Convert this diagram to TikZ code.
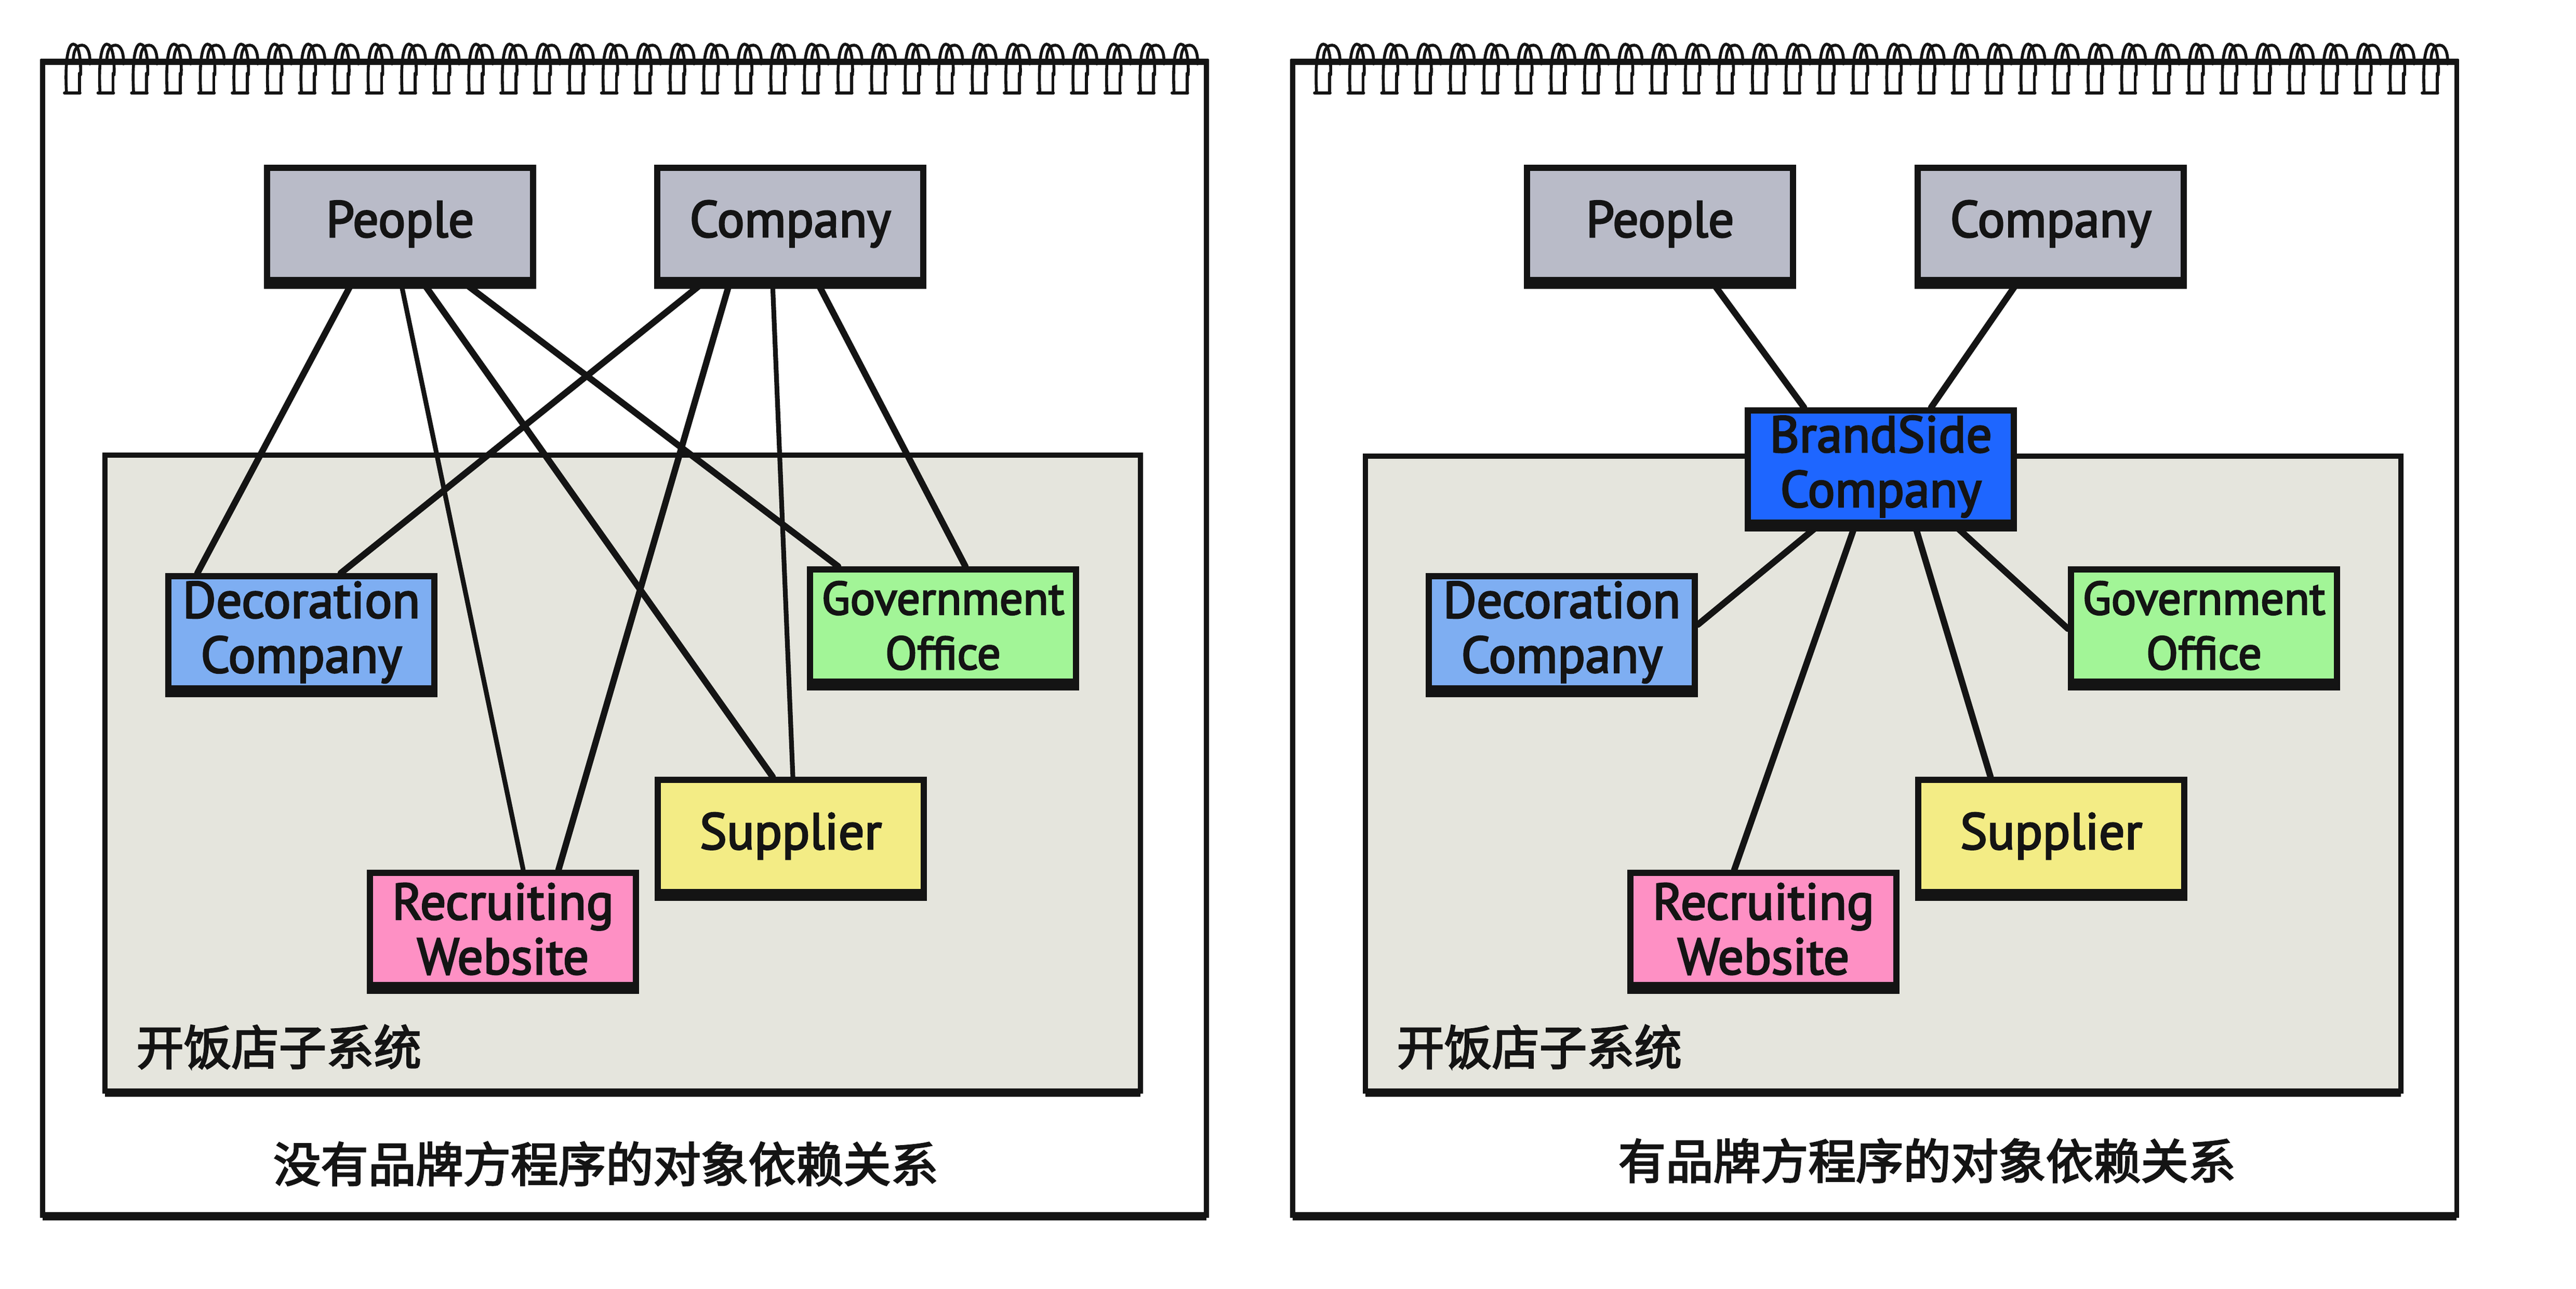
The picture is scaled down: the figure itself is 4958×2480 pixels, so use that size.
\documentclass[tikz,border=0pt]{standalone}
\usepackage{fontspec}
\setmainfont{PT Sans}[RawFeature={embolden=3}]
\newfontfamily\cjk{Noto Sans CJK SC}[RawFeature={embolden=3}]
\usetikzlibrary{calc}
\pgfdeclarelayer{bg}
\pgfdeclarelayer{mid}
\pgfsetlayers{bg,mid,main}

\definecolor{boxgray}{HTML}{B9BBC8}
\definecolor{sysfill}{HTML}{E5E5DD}
\definecolor{decblue}{HTML}{7EAEF2}
\definecolor{govgreen}{HTML}{A2F597}
\definecolor{supyellow}{HTML}{F3EC85}
\definecolor{recpink}{HTML}{FE90C4}
\definecolor{brandblue}{HTML}{1E66FF}
\definecolor{ink}{HTML}{141414}

\tikzset{
  entity/.style={draw=ink, line width=3.4pt, minimum width=5.12cm, minimum height=2.16cm,
    align=center, inner sep=0pt, text=ink, font=\fontsize{28}{30}\selectfont},
  conn/.style={draw=ink, line width=3.5pt, line cap=round},
  thinconn/.style={draw=ink, line width=2.6pt, line cap=round},
  frameline/.style={draw=ink, line width=2.6pt},
  bottomedge/.style={draw=ink, line width=4.5pt},
  ringline/.style={draw=ink, line width=1.6pt, line cap=round},
  syslabel/.style={anchor=west, text=ink, font=\cjk\fontsize{26}{26}\selectfont},
  caption/.style={text=ink, font=\cjk\fontsize{26}{26}\selectfont},
  ring/.pic={
    \draw[ringline] (13,0) .. controls (13,-24) and (20,-32) .. (30,-32) .. controls (41,-32) and (46,-15) .. (45,4);
    \draw[ringline] (0,60) .. controls (-3,10) and (1,-34) .. (13,-34) .. controls (24,-34) and (28,-5) .. (27,25);
    \draw[ringline] (25,22) -- (25,58);
    \draw[ringline] (-4,60) -- (26,60);
  }
}

\begin{document}
\begin{tikzpicture}[x=0.01cm, y=-0.01cm]
\useasboundingbox (0,0) rectangle (4958,2480);

% ---------- notebook frames and system boxes ----------
\begin{pgfonlayer}{bg}
\fill[white] (0,0) rectangle (4958,2480);
\foreach \off in {0,2406} {
  \draw[frameline] (82+\off,119) rectangle (2322+\off,2339);
  \draw[bottomedge] (82+\off,2341) -- (2322+\off,2341);
  \foreach \i in {0,...,33} {
    \pic at ({128+\off+\i*64.6},119) {ring};
  }
  \draw[frameline, line width=3.2pt] (78+\off,119) -- (2326+\off,119);
}
\draw[frameline, fill=sysfill, line width=3pt] (202,876) rectangle (2195,2100);
\draw[bottomedge] (202,2103) -- (2195,2103);
\draw[frameline, fill=sysfill, line width=3pt] (2628,878) rectangle (4621,2100);
\draw[bottomedge] (2628,2103) -- (4621,2103);
\end{pgfonlayer}

% ---------- left panel ----------
\node[entity, fill=boxgray] (lp) at (770,431) {People};
\node[entity, fill=boxgray] (lc) at (1521,431) {Company};
\node[entity, fill=decblue] (ldec) at (580,1217) {Decoration\\Company};
\node[entity, fill=govgreen, font=\fontsize{25.5}{30}\selectfont] (lgov) at (1815,1204) {Government\\Office};
\node[entity, fill=supyellow] (lsup) at (1522,1609) {Supplier};
\node[entity, fill=recpink] (lrec) at (968,1788) {Recruiting\\Website};
\node[syslabel] (lsys) at (250,2015) {开饭店子系统};
\node[caption] (lcap) at (1166,2240) {没有品牌方程序的对象依赖关系};

\begin{pgfonlayer}{mid}
\draw[conn] ($(lp.south)+(-93,0)$) -- ($(ldec.north)+(-200,0)$);
\draw[thinconn] ($(lp.south)+(2,0)$) -- ($(lrec.north)+(39,0)$);
\draw[conn] ($(lp.south)+(45,0)$) -- ($(lsup.north)+(-35,0)$);
\draw[conn] ($(lp.south)+(124,0)$) -- ($(lgov.north)+(-202,0)$);
\draw[conn] ($(lc.south)+(-169,0)$) -- ($(ldec.north)+(76,0)$);
\draw[conn] ($(lc.south)+(-117,0)$) -- ($(lrec.north)+(107,0)$);
\draw[thinconn] ($(lc.south)+(-34,0)$) -- ($(lsup.north)+(4,0)$);
\draw[conn] ($(lc.south)+(53,0)$) -- ($(lgov.north)+(43,0)$);
\end{pgfonlayer}

% ---------- right panel ----------
\node[entity, fill=boxgray] (rp) at (3195,431) {People};
\node[entity, fill=boxgray] (rc) at (3947,431) {Company};
\node[entity, fill=brandblue] (rb) at (3620,898) {BrandSide\\Company};
\node[entity, fill=decblue] (rdec) at (3006,1217) {Decoration\\Company};
\node[entity, fill=govgreen, font=\fontsize{25.5}{30}\selectfont] (rgov) at (4242,1204) {Government\\Office};
\node[entity, fill=supyellow] (rsup) at (3948,1609) {Supplier};
\node[entity, fill=recpink] (rrec) at (3394,1788) {Recruiting\\Website};
\node[syslabel] (rsys) at (2676,2015) {开饭店子系统};
\node[caption] (rcap) at (3709,2234) {有品牌方程序的对象依赖关系};

\begin{pgfonlayer}{mid}
\draw[conn] ($(rp.south)+(102,0)$) -- ($(rb.north)+(-148,0)$);
\draw[conn] ($(rc.south)+(-65,0)$) -- ($(rb.north)+(97,0)$);
\draw[conn] ($(rb.south)+(-121,0)$) -- ($(rdec.east)+(0,-15)$);
\draw[conn] ($(rb.south)+(-50,0)$) -- ($(rrec.north)+(-56,0)$);
\draw[conn] ($(rb.south)+(66,0)$) -- ($(rsup.north)+(-117,0)$);
\draw[conn] ($(rb.south)+(143,0)$) -- ($(rgov.west)+(0,6)$);
\end{pgfonlayer}

% thicker bottom edges of the boxes
\foreach \n in {lp,lc,ldec,lgov,lsup,lrec,rp,rc,rb,rdec,rgov,rsup,rrec} {
  \draw[bottomedge] ([yshift=-0.8pt]\n.south west) -- ([yshift=-0.8pt]\n.south east);
}
\end{tikzpicture}
\end{document}
